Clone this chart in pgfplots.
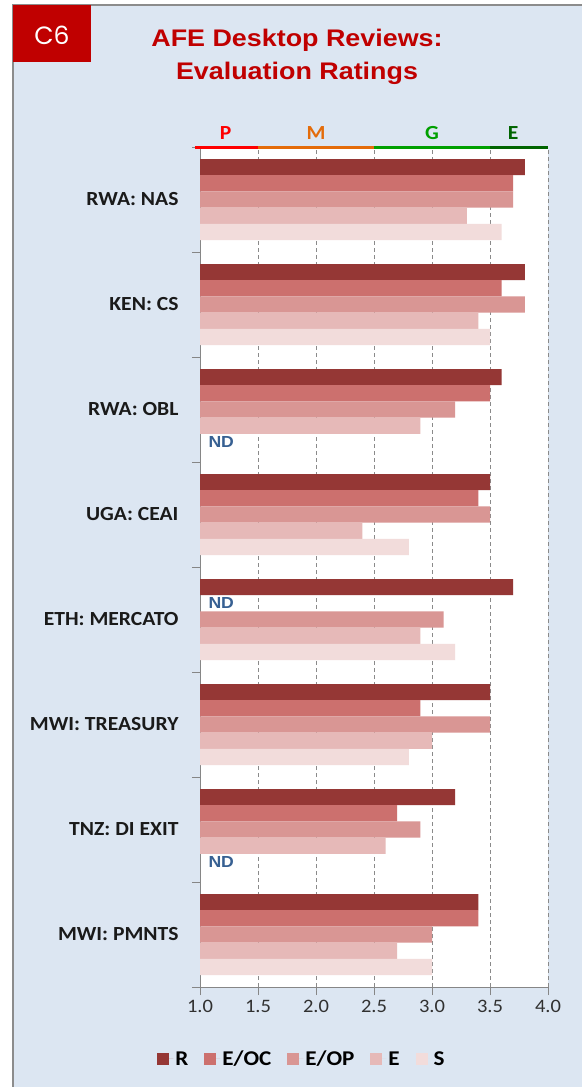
\documentclass[border=0pt]{standalone}
\usepackage{pgfplots}
\pgfplotsset{compat=1.18}
\usepackage{fontspec}
\setmainfont{Carlito}[FakeStretch=1.08]
\newfontfamily\legendfont{Carlito}[FakeStretch=1.1]
\newfontfamily\titlefont{Liberation Sans}[FakeStretch=1.12]
\newfontfamily\badgefont{Poppins}
\newfontfamily\ndfont{Liberation Sans}[FakeStretch=1.1]

\definecolor{PanelBg}{HTML}{DCE6F2}
\definecolor{FrameGray}{HTML}{8C8C8C}
\definecolor{BadgeRed}{HTML}{C00000}
\definecolor{AxisGray}{HTML}{868686}
\definecolor{GridGray}{HTML}{8A8A8A}
\definecolor{LabelInk}{HTML}{1A1A1A}
\definecolor{NdBlue}{HTML}{376092}
\definecolor{cR}{HTML}{953735}
\definecolor{cEOC}{HTML}{CC706E}
\definecolor{cEOP}{HTML}{D99694}
\definecolor{cE}{HTML}{E6B9B8}
\definecolor{cS}{HTML}{F2DCDB}
\definecolor{bandP}{HTML}{FF0000}
\definecolor{bandM}{HTML}{E46C0A}
\definecolor{bandG}{HTML}{00A000}
\definecolor{bandE}{HTML}{006400}

\pgfplotsset{
  sqlegend/.style={legend image code/.code={%
    \fill[##1] (0bp,-6bp) rectangle (12bp,6bp);
    \path (0bp,0bp) -- (16bp,0bp);}},
  ratingbar/.style={draw=none, fill=#1, bar width=16.2bp, sqlegend},
}

\begin{document}
\begin{tikzpicture}
\useasboundingbox (0,0) rectangle (582bp,-1087bp);
% panel
\fill[white] (0,0) rectangle (582bp,-1087bp);
\fill[PanelBg] (13bp,-5bp) rectangle (582bp,-1087bp);
\draw[FrameGray, line width=2bp] (13bp,-1087bp) -- (13bp,-5bp) -- (582bp,-5bp);
\fill[BadgeRed] (13bp,-5bp) rectangle (91bp,-62bp);
\node[text=white, font=\badgefont\fontsize{25bp}{27bp}\selectfont] at (52bp,-35bp) {C6};
\node[text=BadgeRed, font=\titlefont\bfseries\fontsize{24bp}{28bp}\selectfont] at (297bp,-40bp) {AFE Desktop Reviews:};
\node[text=BadgeRed, font=\titlefont\bfseries\fontsize{24bp}{28bp}\selectfont] at (297bp,-73bp) {Evaluation Ratings};

\begin{axis}[
  at={(200bp,-147bp)}, anchor=north west,
  scale only axis,
  width=348bp, height=840bp,
  xbar,
  xmin=1, xmax=4,
  ymin=0.5, ymax=8.5,
  enlargelimits=false,
  axis background/.style={fill=white},
  axis lines*=left,
  axis line style={AxisGray, line width=1bp},
  xtick={1,1.5,...,4},
  xmajorgrids=true,
  major grid style={GridGray, dash pattern=on 4bp off 3bp, line width=0.8bp},
  tick align=outside,
  major tick length=8bp,
  tick style={AxisGray, line width=1bp},
  xticklabel style={font=\fontsize{19bp}{21bp}\selectfont, text=LabelInk!90, yshift=-2bp,
    /pgf/number format/.cd, fixed, fixed zerofill, precision=1, assume math mode=true},
  ytick={0.5,1.5,...,8.5},
  yticklabels={},
  extra y ticks={1,2,3,4,5,6,7,8},
  extra y tick labels={MWI: PMNTS, TNZ: DI EXIT, MWI: TREASURY, ETH: MERCATO, UGA: CEAI, RWA: OBL, KEN: CS, RWA: NAS},
  extra y tick style={major tick length=0pt, tick style={draw=none},
    yticklabel style={font=\bfseries\fontsize{20bp}{22bp}\selectfont, text=LabelInk, anchor=east, xshift=-18bp}},
  legend columns=5,
  legend style={at={(0.293,-0.0857)}, anchor=center, draw=none, fill=none,
    font=\legendfont\bfseries\fontsize{21bp}{23bp}\selectfont,
    /tikz/every even column/.append style={column sep=14bp}},
]
\addplot[ratingbar=cR, bar shift=32.4bp]
  coordinates {(3.8,8) (3.8,7) (3.6,6) (3.5,5) (3.7,4) (3.5,3) (3.2,2) (3.4,1)};
\addplot[ratingbar=cEOC, bar shift=16.2bp]
  coordinates {(3.7,8) (3.6,7) (3.5,6) (3.4,5) (2.9,3) (2.7,2) (3.4,1)};
\addplot[ratingbar=cEOP, bar shift=0bp]
  coordinates {(3.7,8) (3.8,7) (3.2,6) (3.5,5) (3.1,4) (3.5,3) (2.9,2) (3.0,1)};
\addplot[ratingbar=cE, bar shift=-16.2bp]
  coordinates {(3.3,8) (3.4,7) (2.9,6) (2.4,5) (2.9,4) (3.0,3) (2.6,2) (2.7,1)};
\addplot[ratingbar=cS, bar shift=-32.4bp]
  coordinates {(3.6,8) (3.5,7) (2.8,5) (3.2,4) (2.8,3) (3.0,1)};
\legend{R,E/OC,E/OP,E,S}
% no-data markers
\node[anchor=west, text=NdBlue, font=\ndfont\bfseries\fontsize{16bp}{18bp}\selectfont, xshift=5bp, yshift=-32.4bp] at (axis cs:1,6) {ND};
\node[anchor=west, text=NdBlue, font=\ndfont\bfseries\fontsize{16bp}{18bp}\selectfont, xshift=5bp, yshift=16.2bp] at (axis cs:1,4) {ND};
\node[anchor=west, text=NdBlue, font=\ndfont\bfseries\fontsize{16bp}{18bp}\selectfont, xshift=5bp, yshift=-32.4bp] at (axis cs:1,2) {ND};
% rating band anchors
\coordinate (b0) at (axis cs:1,8.5);
\coordinate (b1) at (axis cs:1.5,8.5);
\coordinate (b2) at (axis cs:2.5,8.5);
\coordinate (b3) at (axis cs:3.5,8.5);
\coordinate (b4) at (axis cs:4,8.5);
\coordinate (lP) at (axis cs:1.22,8.5);
\coordinate (lM) at (axis cs:2.0,8.5);
\coordinate (lG) at (axis cs:3.0,8.5);
\coordinate (lE) at (axis cs:3.7,8.5);
\end{axis}

% rating band
\draw[bandP, line width=3bp] ([xshift=-5bp]b0) -- (b1);
\draw[bandM, line width=3bp] (b1) -- (b2);
\draw[bandG, line width=3bp] (b2) -- (b3);
\draw[bandE, line width=3bp] (b3) -- (b4);
\node[text=bandP, font=\bfseries\fontsize{20bp}{22bp}\selectfont] at ([yshift=14bp]lP) {P};
\node[text=bandM, font=\bfseries\fontsize{20bp}{22bp}\selectfont] at ([yshift=14bp]lM) {M};
\node[text=bandG, font=\bfseries\fontsize{20bp}{22bp}\selectfont] at ([yshift=14bp]lG) {G};
\node[text=bandE, font=\bfseries\fontsize{20bp}{22bp}\selectfont] at ([yshift=14bp]lE) {E};
\end{tikzpicture}
\end{document}
